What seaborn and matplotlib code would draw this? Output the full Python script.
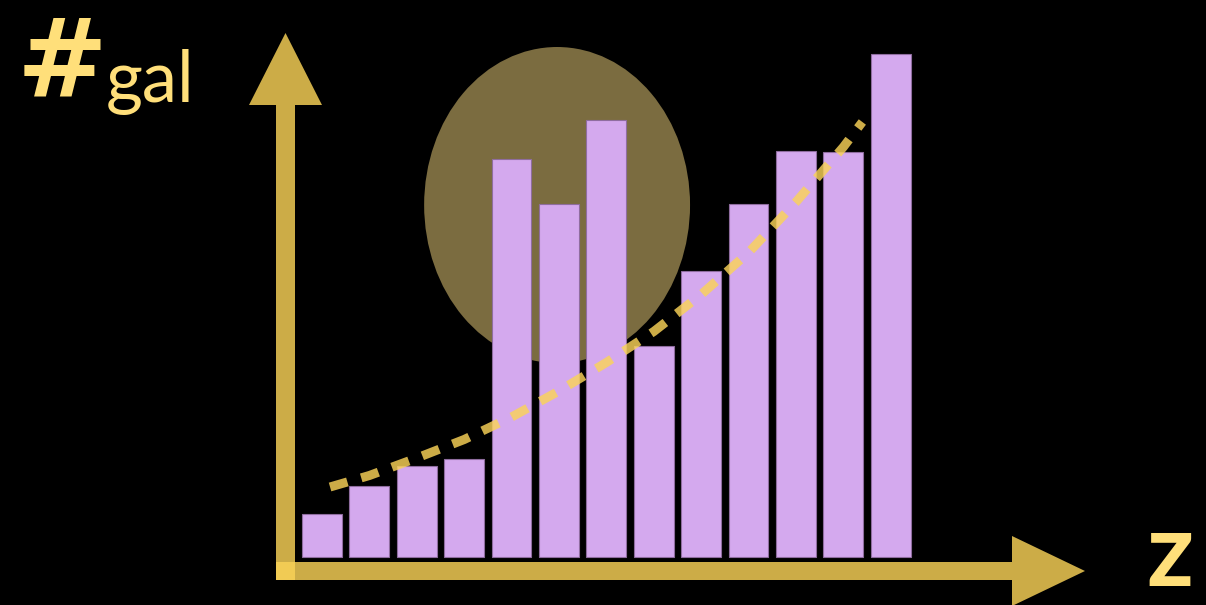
import matplotlib
matplotlib.use("Agg")
import matplotlib.pyplot as plt
import seaborn as sns
import pandas as pd
from matplotlib.patches import Ellipse, FancyArrow

# Data
z_bins = [1, 2, 3, 4, 5, 6, 7, 8, 9, 10, 11, 12, 13]
n_gal = [8.6, 14.2, 18.2, 19.6, 79.6, 70.6, 87.4, 42.2, 57.2, 70.6, 81.2, 81.0, 100.6]

# smooth trend drawn through the histogram
trend_z = [1.17, 2.0, 3.0, 4.0, 5.0, 6.0, 7.0, 8.0, 9.0, 10.0, 11.0, 12.0, 12.4]
trend_n = [14.0, 16.3, 19.8, 23.5, 28.0, 33.2, 38.9, 45.1, 52.5, 60.9, 71.0, 82.0, 87.0]

# highlighted excess region (centre z, centre n, width, height)
excess_z, excess_n, excess_w, excess_h = 5.96, 70.4, 5.61, 63.2

BAR_COLOR = "#d4a9ee"
AXIS_COLOR = "#fad358"
TEXT_COLOR = "#ffdf7a"
ELLIPSE_COLOR = "#7b6c40"

sns.set_theme(style="white")
plt.rcParams["font.family"] = ["Lato", "DejaVu Sans"]

fig = plt.figure(figsize=(12.06, 6.05), dpi=100, facecolor="black")
ax = fig.add_axes([0, 0, 1, 1])
ax.set_facecolor("black")

df = pd.DataFrame({"z": z_bins, "n": n_gal})
sns.barplot(data=df, x="z", y="n", native_scale=True, width=0.84, color=BAR_COLOR,
            saturation=1, edgecolor="#8f6d9f", linewidth=0.8, ax=ax, zorder=2)

ax.add_patch(Ellipse((excess_z, excess_n), excess_w, excess_h, facecolor=ELLIPSE_COLOR,
                     edgecolor="none", zorder=1))

trend = pd.DataFrame({"z": trend_z, "n": trend_n})
sns.lineplot(data=trend, x="z", y="n", ax=ax, color=AXIS_COLOR, alpha=0.82, lw=6.5,
             linestyle=(0, (2.0, 1.6)), dash_capstyle="butt", zorder=3)

ax.set_xlim(-5.793, 19.65)
ax.set_ylim(-9.6, 111.4)
ax.set_axis_off()

# overlay in pixel units for the hand-drawn axes and labels
deco = fig.add_axes([0, 0, 1, 1], facecolor="none")
deco.set_xlim(0, 1206)
deco.set_ylim(605, 0)
deco.set_axis_off()

deco.add_patch(FancyArrow(285.5, 580, 0, -547, width=19, head_width=73, head_length=72,
                          length_includes_head=True, color=AXIS_COLOR, alpha=0.82, lw=0))
deco.add_patch(FancyArrow(276, 571, 809, 0, width=18, head_width=70, head_length=73,
                          length_includes_head=True, color=AXIS_COLOR, alpha=0.82, lw=0))

deco.text(17, 95, "#", color=TEXT_COLOR, fontsize=78, fontweight="bold",
          family=["DejaVu Sans"], va="baseline", ha="left")
deco.text(106, 102, "gal", color=TEXT_COLOR, fontsize=51, va="baseline", ha="left")
deco.text(1170, 603, "z", color=TEXT_COLOR, fontsize=74, fontweight="bold", va="bottom", ha="center")

fig.savefig("out.png", dpi=100, facecolor="black")
